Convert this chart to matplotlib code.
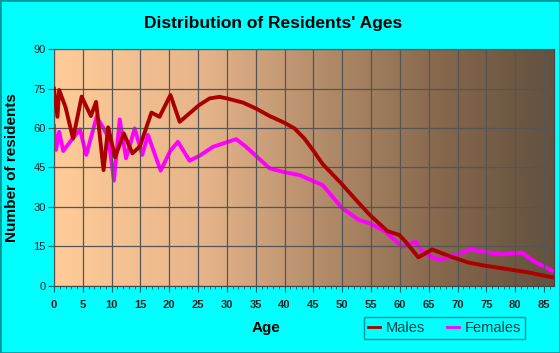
import matplotlib
matplotlib.use("Agg")
import matplotlib.pyplot as plt
from matplotlib.patches import Rectangle
from matplotlib.colors import LinearSegmentedColormap
import numpy as np

plt.rcParams['font.family'] = ['Liberation Sans', 'DejaVu Sans']

male_age = [0, 0.6, 0.9, 2.0, 3.3, 4.8, 6.4, 7.3, 8.6, 9.4, 10.6, 12.1, 13.6, 14.9,
            16.9, 18.3, 20.2, 21.8, 23.5, 25.2, 27, 28.7, 30, 32.8, 35, 37.4, 40,
            41.7, 43.4, 44.9, 46.6, 49.8, 52.4, 54.8, 57.8, 59.9, 61, 63.2, 65.6,
            68.5, 71.9, 74.8, 79.6, 82.4, 86.4]
male_val = [75, 64.3, 74.5, 68, 56, 72, 64.6, 70, 44, 60.3, 48.9, 58, 50.4, 53,
            65.9, 64.3, 72.6, 62.4, 65.6, 68.8, 71.3, 71.9, 71.3, 69.7, 67.5, 64.6, 62,
            59.9, 56.1, 51.7, 46.3, 39, 32.6, 26.9, 20.8, 19.3, 16.7, 10.8, 13.8,
            11.3, 8.8, 7.6, 6, 5, 3.2]

female_age = [0, 0.35, 0.9, 1.6, 2.8, 4.5, 5.6, 7.4, 8.6, 9.4, 10.4, 11.4, 12.5, 14,
              15.3, 16.3, 18.5, 20.2, 21.5, 23.5, 25.2, 27.6, 31.6, 33.3, 37.4, 40,
              42.6, 46.6, 50, 52.9, 54.7, 57.5, 60.4, 62.7, 64.2, 66.8, 69.7, 72.2,
              77.7, 81.1, 83.4, 86.4]
female_val = [60.8, 51.7, 58.6, 51.3, 54.8, 59.5, 49.8, 64.3, 59.9, 56.7, 40, 63.3, 48.5, 59.9,
              49.8, 57.4, 43.8, 51.4, 54.8, 47.6, 49.4, 52.9, 55.8, 52.9, 44.7, 43.2,
              42.1, 38.3, 29.5, 25, 23.8, 20.6, 14.8, 16.7, 12.3, 9.8, 11.7, 13.8,
              11.9, 12.6, 9.1, 5.7]

x_ticks = list(range(0, 90, 5))
y_ticks = list(range(0, 91, 15))

fig = plt.figure(figsize=(5.6, 3.53), dpi=100, facecolor='#00FFFF')
fig.patches.append(Rectangle((0, 0), 1, 1, transform=fig.transFigure, fill=False,
                             edgecolor='#009999', linewidth=2))
ax = fig.add_axes([0.0964, 0.1907, 0.8926, 0.6696])

# background gradient, peach -> dark brown
cmap = LinearSegmentedColormap.from_list('bg', [
    (0.0, '#FFCC99'), (0.3, '#E6B48A'), (0.55, '#B08A68'),
    (0.78, '#85674C'), (0.95, '#6A5641'), (1.0, '#645240')])
ax.imshow(np.linspace(0, 1, 256).reshape(1, -1), cmap=cmap, aspect='auto',
          extent=[0, 1, 0, 1], transform=ax.transAxes, zorder=0)

ax.plot(male_age, male_val, color='#AA0000', lw=2.8, label='Males', zorder=3,
        solid_joinstyle='round')
ax.plot(female_age, female_val, color='#FF00FF', lw=2.8, label='Females', zorder=2,
        solid_joinstyle='round')

ax.set_xlim(0, 86.7)
ax.set_ylim(0, 90)
ax.set_xticks(x_ticks)
ax.set_xticks(np.arange(0, 87, 1), minor=True)
ax.set_yticks(y_ticks)
ax.grid(True, color='#555555', lw=0.9, zorder=1)
ax.set_axisbelow(False)
for s in ax.spines.values():
    s.set_color('#444444')
    s.set_linewidth(0.8)
ax.tick_params(axis='x', which='major', length=4, color='#006666', labelsize=8, pad=6)
ax.tick_params(axis='x', which='minor', length=2.5, color='#006666')
ax.tick_params(axis='y', length=4, color='#006666', labelsize=8, pad=2)
for t in ax.get_xticklabels():
    t.set_fontweight('bold')
    t.set_color('#222222')
for t in ax.get_yticklabels():
    t.set_color('#222222')

fig.text(0.487, 0.934, "Distribution of Residents' Ages", ha='center', va='center',
         fontsize=12.5, fontweight='bold')
fig.text(0.475, 0.072, 'Age', ha='center', va='center', fontsize=11, fontweight='bold')
fig.text(0.021, 0.525, 'Number of residents', ha='center', va='center', rotation=90,
         fontsize=11, fontweight='bold')

leg = fig.legend(loc='center', bbox_to_anchor=(0.794, 0.071), ncol=2, fontsize=10.5,
                 frameon=True, fancybox=False, handlelength=0.8, handletextpad=0.4,
                 columnspacing=1.5, borderpad=0.3)
leg.get_frame().set_facecolor('#00FFFF')
leg.get_frame().set_edgecolor('#007777')
leg.get_frame().set_linewidth(1)
for h in leg.get_lines():
    h.set_linewidth(2)
for t in leg.get_texts():
    t.set_color('#004444')

fig.savefig('out.png', dpi=100, facecolor=fig.get_facecolor())
